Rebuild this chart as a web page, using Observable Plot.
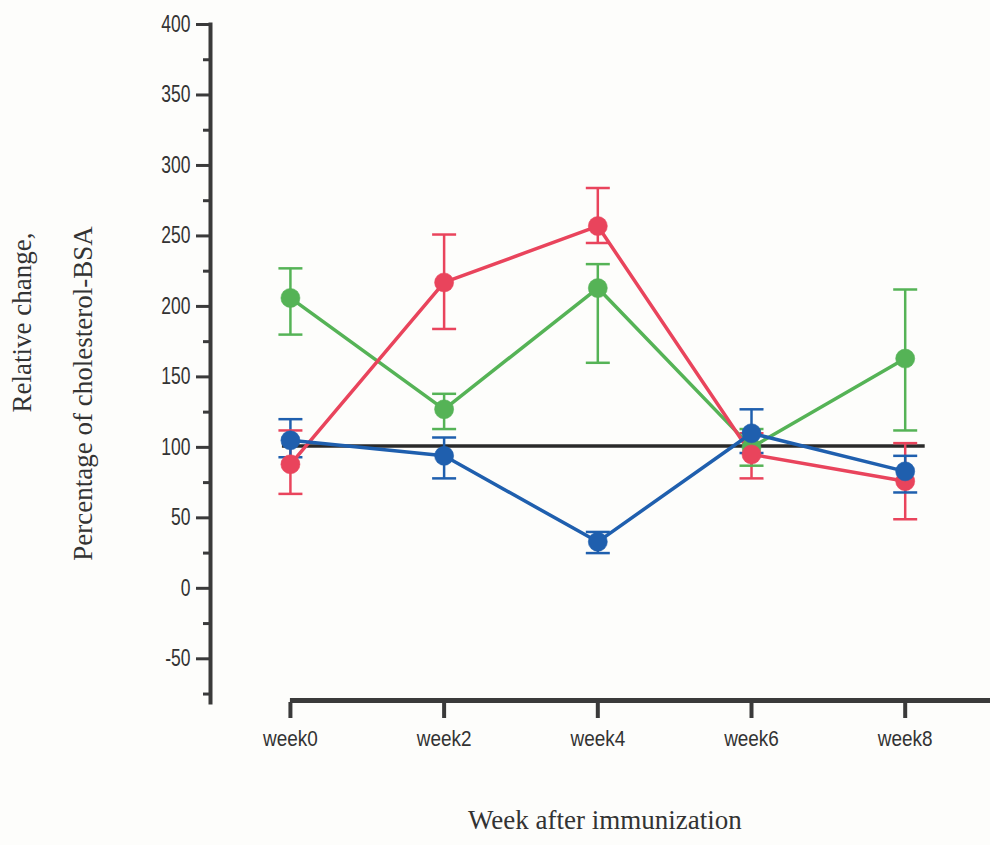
<!DOCTYPE html>
<html>
<head>
<meta charset="utf-8">
<script src="https://cdn.jsdelivr.net/npm/d3@7"></script>
<script src="https://cdn.jsdelivr.net/npm/@observablehq/plot@0.6"></script>
<style>
  html, body { margin: 0; padding: 0; background: #fdfdfb; }
  #chart svg { display: block; }
</style>
</head>
<body>
<div id="chart"></div>
<script>
const weeks = [0, 2, 4, 6, 8];
const weekLabels = ["week0", "week2", "week4", "week6", "week8"];

const greenMean  = [206, 127, 213, 100, 163];
const greenLow   = [180, 113, 160,  87, 112];
const greenHigh  = [227, 138, 230, 113, 212];

const redMean    = [ 88, 217, 257,  95,  76];
const redLow     = [ 67, 184, 245,  78,  49];
const redHigh    = [112, 251, 284, 110, 103];

const blueMean   = [105,  94,  33, 110,  83];
const blueLow    = [ 93,  78,  25,  96,  68];
const blueHigh   = [120, 107,  40, 127,  94];

const referenceValue = 101;
const yTicks = [-50, 0, 50, 100, 150, 200, 250, 300, 350, 400];
const yMinorTicks = [-75, -25, 25, 75, 125, 175, 225, 275, 325, 375];
const yDomain = [-81, 400];
const xDomain = [-1.04, 9.11];

const series = [
  {name: "green", color: "#55b356", mean: greenMean, low: greenLow, high: greenHigh},
  {name: "red",   color: "#e9445c", mean: redMean,   low: redLow,   high: redHigh},
  {name: "blue",  color: "#1f5fae", mean: blueMean,  low: blueLow,  high: blueHigh}
];
const rows = series.flatMap(s => weeks.map((w, i) => ({
  series: s.name, color: s.color, week: w, mean: s.mean[i], low: s.low[i], high: s.high[i]
})));

const capSymbol = {
  draw(ctx, size) {
    const w = Math.sqrt(size / Math.PI);
    ctx.moveTo(-w, 0);
    ctx.lineTo(w, 0);
  }
};

const tickFont = "'Liberation Sans', Arial, sans-serif";
const serifFont = "'Liberation Serif', 'DejaVu Serif', serif";

const chart = Plot.plot({
  width: 990,
  height: 845,
  marginTop: 24,
  marginBottom: 143,
  marginLeft: 210,
  marginRight: 0,
  style: {background: "transparent", color: "#333"},
  x: {type: "linear", domain: xDomain},
  y: {domain: yDomain},
  marks: [
    Plot.frame({anchor: "left", stroke: "#3a3a3a", strokeWidth: 4}),
    Plot.axisY({ticks: yTicks, tickSize: 14, tickPadding: 6, strokeWidth: 3, stroke: "#3a3a3a",
      tickFormat: d => String(d), fontSize: 23, fontFamily: tickFont, fill: "#333", label: null}),
    Plot.axisY({ticks: yMinorTicks, tickSize: 7, strokeWidth: 3, stroke: "#3a3a3a",
      tickFormat: () => "", label: null}),
    Plot.ruleY([yDomain[0]], {x1: weeks[0], x2: xDomain[1], stroke: "#3a3a3a", strokeWidth: 5, dy: -2}),
    Plot.axisX({ticks: weeks, tickSize: 16, tickPadding: 12, strokeWidth: 4, stroke: "#3a3a3a",
      tickFormat: d => weekLabels[weeks.indexOf(d)], fontSize: 22, fontFamily: tickFont, fill: "#333", label: null}),
    Plot.ruleY([referenceValue], {x1: weeks[0], x2: weeks[weeks.length - 1], insetLeft: -8, insetRight: -20,
      stroke: "#2a2a2a", strokeWidth: 3.5}),
    Plot.ruleX(rows, {x: "week", y1: "low", y2: "high", stroke: "color", strokeWidth: 2.5}),
    Plot.dot(rows, {x: "week", y: "low", symbol: capSymbol, r: 12, stroke: "color", strokeWidth: 2.5, fill: "none"}),
    Plot.dot(rows, {x: "week", y: "high", symbol: capSymbol, r: 12, stroke: "color", strokeWidth: 2.5, fill: "none"}),
    Plot.line(rows, {x: "week", y: "mean", z: "series", stroke: "color", strokeWidth: 3.5}),
    Plot.dot(rows, {x: "week", y: "mean", fill: "color", r: 9.5, stroke: "color", strokeOpacity: 0.6, strokeWidth: 1}),
    Plot.text(["Relative change,"], {frameAnchor: "left", dx: -188, dy: -41, rotate: -90,
      fontFamily: serifFont, fontSize: 27, fill: "#333", textAnchor: "middle"}),
    Plot.text(["Percentage of cholesterol-BSA"], {frameAnchor: "left", dx: -127, dy: 30, rotate: -90,
      fontFamily: serifFont, fontSize: 27, fill: "#333", textAnchor: "middle"}),
    Plot.text(["Week after immunization"], {frameAnchor: "bottom", x: weeks[2], dx: 7, dy: 126,
      fontFamily: serifFont, fontSize: 27, fill: "#333"})
  ]
});

document.getElementById("chart").appendChild(chart);

// condense the tick labels horizontally (narrow sans look of the original)
function condense(selector, sx) {
  chart.querySelectorAll(selector).forEach(el => {
    if (!el.textContent) return;
    const len = el.getComputedTextLength();
    if (len > 0) {
      el.setAttribute("textLength", (len * sx).toFixed(2));
      el.setAttribute("lengthAdjust", "spacingAndGlyphs");
    }
  });
}
condense('g[aria-label="y-axis tick label"] text', 0.76);
condense('g[aria-label="x-axis tick label"] text', 0.86);
</script>
</body>
</html>
